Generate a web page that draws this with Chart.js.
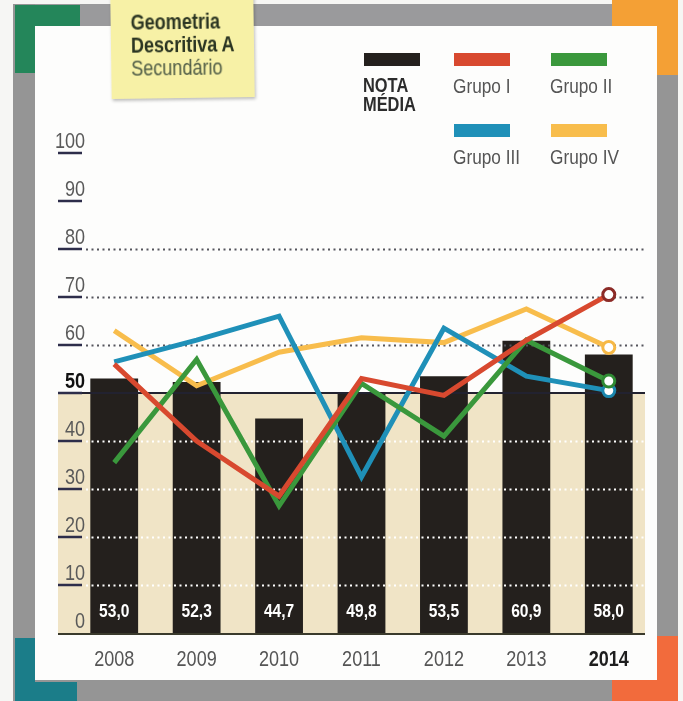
<!DOCTYPE html>
<html lang="pt">
<head>
<meta charset="utf-8">
<script src="https://cdn.jsdelivr.net/npm/chart.js@4"></script>
<style>
  html, body { margin: 0; padding: 0; background: #f6f6f4; }
  #page { position: relative; width: 683px; height: 701px; overflow: hidden;
          font-family: "Liberation Sans", Arial, sans-serif; }
  .band { position: absolute; background: #959595; }
  .corner { position: absolute; }
  #panel { position: absolute; left: 35px; top: 26px; width: 622px; height: 654px; background: #fdfdfc; }
  #chart { position: absolute; left: 0; top: 0; }
  #note { position: absolute; left: 111px; top: -4px; width: 143px; height: 102px; background: #f7f1a6;
          box-shadow: 1px 2px 3px rgba(0,0,0,0.25); transform: rotate(-0.8deg); }
  .narrow { position: absolute; white-space: nowrap; transform: scaleX(0.82); transform-origin: 0 0; }
  #note .narrow { left: 20px; font-size: 22px; line-height: 23px; }
  .legend-swatch { position: absolute; height: 13px; width: 56px; }
  .legend-text { font-size: 21px; color: #555; line-height: 19px; }
</style>
</head>
<body>
<div id="page">
  <!-- moldura -->
  <div class="band" style="left:13px; top:4px; width:664px; height:22px; background:#9a9a9c"></div>
  <div class="band" style="left:13px; top:4px; width:22px; height:694px"></div>
  <div class="band" style="left:657px; top:4px; width:21px; height:694px"></div>
  <div class="band" style="left:13px; top:680px; width:664px; height:21px"></div>
  <div class="corner" style="left:15px; top:5px; width:65px; height:22px; background:#24865a"></div>
  <div class="corner" style="left:15px; top:5px; width:20px; height:68px; background:#24865a"></div>
  <div class="corner" style="left:612px; top:0px; width:66px; height:27px; background:#f4a035"></div>
  <div class="corner" style="left:657px; top:0px; width:21px; height:75px; background:#f4a035"></div>
  <div class="corner" style="left:15px; top:682px; width:62px; height:19px; background:#1b7d89"></div>
  <div class="corner" style="left:15px; top:638px; width:20px; height:63px; background:#1b7d89"></div>
  <div class="corner" style="left:612px; top:677px; width:66px; height:24px; background:#f26b3c"></div>
  <div class="corner" style="left:657px; top:636px; width:21px; height:65px; background:#f26b3c"></div>
  <div id="panel"></div>

  <canvas id="chart" width="683" height="701"></canvas>

  <div id="note">
    <div class="narrow" style="top:14px; font-weight:bold; color:#2b3522">Geometria</div>
    <div class="narrow" style="top:37px; font-weight:bold; color:#2b3522">Descritiva A</div>
    <div class="narrow" style="top:60px; color:#4d5a45">Secundário</div>
  </div>

  <div id="legend"></div>
</div>

<script>
// valores por ano
const years = ["2008", "2009", "2010", "2011", "2012", "2013", "2014"];
const notaMedia = [53.0, 52.3, 44.7, 49.8, 53.5, 60.9, 58.0];
const grupoI = [56, 40, 28.5, 53, 49.5, 61, 70.5];
const grupoII = [35.5, 57, 26.5, 52, 41, 61, 52.5];
const grupoIII = [56.5, 61, 66, 32.5, 63.5, 53.5, 50.5];
const grupoIV = [63, 51.5, 58.5, 61.5, 60.5, 67.5, 59.5];
const yTicks = [0, 10, 20, 30, 40, 50, 60, 70, 80, 90, 100];

const FONT = '"Liberation Sans", Arial, sans-serif';
const SQUEEZE = 0.82;

// legenda em html
const legendItems = [
  { label: "NOTA<br>MÉDIA", color: "#24201d", x: 364, y: 53, bold: true },
  { label: "Grupo I", color: "#d8492f", x: 454, y: 53 },
  { label: "Grupo II", color: "#3a983c", x: 551, y: 53 },
  { label: "Grupo III", color: "#1f90b8", x: 454, y: 124 },
  { label: "Grupo IV", color: "#f8bd4c", x: 551, y: 124 },
];
const legend = document.getElementById("legend");
legendItems.forEach((it) => {
  const sw = document.createElement("div");
  sw.className = "legend-swatch";
  sw.style.cssText = `left:${it.x}px; top:${it.y}px; background:${it.color}`;
  legend.appendChild(sw);
  const tx = document.createElement("div");
  tx.className = "narrow legend-text";
  tx.innerHTML = it.label;
  tx.style.cssText = `left:${it.x - 1}px; top:${it.y + 23}px;` +
    (it.bold ? "font-weight:bold; color:#2c2c2c; font-size:20px;" : "");
  legend.appendChild(tx);
});

// texto estreito: escala horizontal à volta do ponto de ancoragem
function narrowText(ctx, text, x, y) {
  ctx.save();
  ctx.translate(x, y);
  ctx.scale(SQUEEZE, 1);
  ctx.fillText(text, 0, 0);
  ctx.restore();
}

function lastPoint(arr, r) {
  return arr.map((v, i) => (i === arr.length - 1 ? r : 0));
}

function lineSet(label, data, color, ring, order) {
  return {
    type: "line",
    label: label,
    data: data,
    borderColor: color,
    borderWidth: 5,
    tension: 0,
    order: order,
    pointRadius: lastPoint(data, 6),
    pointHoverRadius: lastPoint(data, 6),
    pointBackgroundColor: "#ffffff",
    pointBorderColor: ring,
    pointBorderWidth: 3,
  };
}

// fundo bege, grelha pontilhada, eixos e rótulos
const decor = {
  id: "decor",
  beforeDatasetsDraw(chart) {
    const { ctx, scales: { y } } = chart;
    ctx.save();
    ctx.fillStyle = "#f0e4c6";
    ctx.fillRect(58, y.getPixelForValue(50), 587, y.getPixelForValue(0) - y.getPixelForValue(50));
    ctx.restore();
  },
  afterDatasetDraw(chart, args) {
    if (args.index !== 0) return;
    const { ctx, scales: { x, y } } = chart;
    ctx.save();
    ctx.lineWidth = 2;
    ctx.setLineDash([2, 3.5]);
    [10, 20, 30, 40, 60, 70, 80].forEach((v) => {
      const py = Math.round(y.getPixelForValue(v)) + 0.5;
      ctx.strokeStyle = v < 50 ? "#ffffff" : "#55555c";
      ctx.beginPath();
      ctx.moveTo(86, py);
      ctx.lineTo(645, py);
      ctx.stroke();
    });
    ctx.setLineDash([]);
    // linha dos 50
    ctx.strokeStyle = "#222230";
    ctx.lineWidth = 2;
    let py = y.getPixelForValue(50);
    ctx.beginPath(); ctx.moveTo(58, py); ctx.lineTo(645, py); ctx.stroke();
    // linha de base
    ctx.strokeStyle = "#3a3a2c";
    py = y.getPixelForValue(0) + 1;
    ctx.beginPath(); ctx.moveTo(58, py); ctx.lineTo(645, py); ctx.stroke();
    // valores nas barras
    ctx.fillStyle = "#ffffff";
    ctx.font = "bold 19px " + FONT;
    ctx.textAlign = "center";
    ctx.textBaseline = "middle";
    notaMedia.forEach((v, i) => {
      narrowText(ctx, v.toFixed(1).replace(".", ","), x.getPixelForValue(i), y.getPixelForValue(0) - 21);
    });
    ctx.restore();
  },
  afterDraw(chart) {
    const { ctx, scales: { x, y } } = chart;
    ctx.save();
    // eixo y: números sublinhados
    ctx.textAlign = "right";
    ctx.textBaseline = "alphabetic";
    yTicks.forEach((v) => {
      const py = y.getPixelForValue(v);
      if (v !== 0) {
        ctx.strokeStyle = "#2d2d4a";
        ctx.lineWidth = 2.5;
        ctx.beginPath(); ctx.moveTo(58, py); ctx.lineTo(82, py); ctx.stroke();
      }
      ctx.fillStyle = v === 50 ? "#111111" : "#5a5a5a";
      ctx.font = (v === 50 ? "bold " : "") + "22px " + FONT;
      narrowText(ctx, String(v), 85, py - 5);
    });
    // anos
    ctx.textAlign = "center";
    ctx.textBaseline = "middle";
    years.forEach((yr, i) => {
      const last = i === years.length - 1;
      ctx.fillStyle = last ? "#1e1e1e" : "#555555";
      ctx.font = (last ? "bold " : "") + "22px " + FONT;
      narrowText(ctx, yr, x.getPixelForValue(i), 660);
    });
    ctx.restore();
  },
};

new Chart(document.getElementById("chart"), {
  data: {
    labels: years,
    datasets: [
      {
        type: "bar",
        label: "NOTA MÉDIA",
        data: notaMedia,
        backgroundColor: "#24201d",
        categoryPercentage: 1,
        barPercentage: 0.58,
        order: 10,
      },
      lineSet("Grupo IV", grupoIV, "#f8bd4c", "#f6b845", 4),
      lineSet("Grupo III", grupoIII, "#1f90b8", "#1a86ad", 3),
      lineSet("Grupo II", grupoII, "#3a983c", "#2f8a33", 2),
      lineSet("Grupo I", grupoI, "#d8492f", "#8c2b27", 1),
    ],
  },
  options: {
    responsive: false,
    animation: false,
    devicePixelRatio: 1,
    layout: { padding: { top: 153, bottom: 68, left: 73, right: 33 } },
    plugins: { legend: { display: false }, tooltip: { enabled: false } },
    scales: {
      x: { type: "category", offset: true, display: false },
      y: { min: 0, max: 100, display: false },
    },
  },
  plugins: [decor],
});
</script>
</body>
</html>
